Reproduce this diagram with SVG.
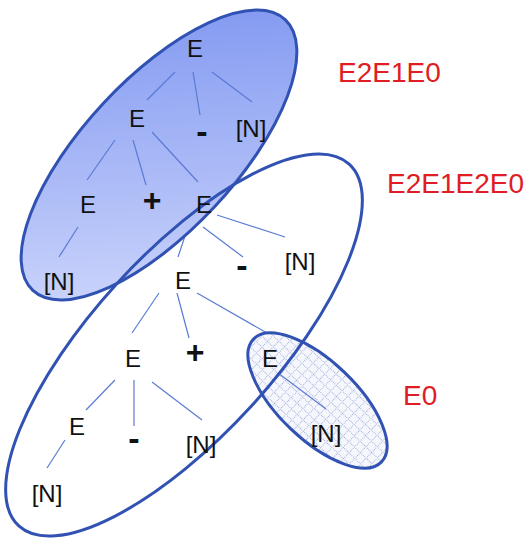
<svg xmlns="http://www.w3.org/2000/svg" width="525" height="539" viewBox="0 0 525 539">
<defs>
<linearGradient id="blueGrad" gradientUnits="userSpaceOnUse" x1="285" y1="25" x2="35" y2="285">
<stop offset="0" stop-color="#7b93f0"/>
<stop offset="1" stop-color="#d2dafc"/>
</linearGradient>
<pattern id="grid" patternUnits="userSpaceOnUse" width="8" height="8">
<rect width="8" height="8" fill="#f5f7fd"/>
<path d="M0 0.5H8M0.5 0V8" stroke="#8e9fcc" stroke-width="0.8" stroke-dasharray="1 1"/>
</pattern>
<style>
.set{stroke:#3152b3;stroke-width:3}
.edge{stroke:#5b7ad4;stroke-width:1.2;fill:none}
.t{font-family:"Liberation Sans",Arial,sans-serif;font-size:24px;fill:#111;text-anchor:middle}
.plus{font-family:"Liberation Sans",Arial,sans-serif;font-size:32px;font-weight:bold;fill:#111;text-anchor:middle}
.minus{font-family:"Liberation Sans",Arial,sans-serif;font-size:34px;font-weight:bold;fill:#111;text-anchor:middle}
.lbl{font-family:"Liberation Sans",Arial,sans-serif;font-size:28px;fill:#e01c24}
</style>
</defs>
<g id="sets-fill">
<ellipse cx="159" cy="155" rx="185" ry="76" transform="rotate(-47 159 155)" fill="url(#blueGrad)"/>
<ellipse cx="317.5" cy="400.5" rx="88.7" ry="39" transform="rotate(43.8 317.5 400.5)" fill="url(#grid)"/>
</g>
<g id="connectors">
<line class="edge" x1="175" y1="72" x2="147" y2="100"/>
<line class="edge" x1="193" y1="72" x2="200" y2="115"/>
<line class="edge" x1="212" y1="72" x2="252" y2="102"/>
<line class="edge" x1="115" y1="140" x2="87" y2="180"/>
<line class="edge" x1="133" y1="140" x2="146" y2="185"/>
<line class="edge" x1="152" y1="132" x2="198" y2="182"/>
<line class="edge" x1="78" y1="227" x2="59" y2="257"/>
<line class="edge" x1="217" y1="215" x2="285" y2="237"/>
<line class="edge" x1="203" y1="227" x2="243" y2="257"/>
<line class="edge" x1="185" y1="236" x2="178" y2="257"/>
<line class="edge" x1="159" y1="293" x2="132" y2="333"/>
<line class="edge" x1="177" y1="293" x2="189" y2="338"/>
<line class="edge" x1="197" y1="293" x2="267" y2="333"/>
<line class="edge" x1="115" y1="380" x2="86" y2="410"/>
<line class="edge" x1="134" y1="380" x2="134" y2="426"/>
<line class="edge" x1="152" y1="382" x2="202" y2="420"/>
<line class="edge" x1="65" y1="440" x2="47" y2="468"/>
<line class="edge" x1="278" y1="373" x2="326" y2="409"/>
</g>
<g id="sets-outline" fill="none">
<ellipse id="set-E2E1E0" class="set" cx="159" cy="155" rx="185" ry="76" transform="rotate(-47 159 155)"/>
<ellipse id="set-E0" class="set" cx="317.5" cy="400.5" rx="88.7" ry="39" transform="rotate(43.8 317.5 400.5)"/>
<ellipse id="set-E2E1E2E0" class="set" cx="184" cy="345" rx="245" ry="91" transform="rotate(-47.6 184 345)"/>
</g>
<g id="n1"><text class="t" x="195" y="57">E</text></g>
<g id="n2"><text class="t" x="137" y="127">E</text></g>
<g id="n3"><text class="minus" x="202" y="143">-</text></g>
<g id="n4"><text class="t" x="251" y="137">[N]</text></g>
<g id="n5"><text class="t" x="88" y="213">E</text></g>
<g id="n6"><text class="plus" x="152" y="211">+</text></g>
<g id="n7"><text class="t" x="204" y="213">E</text></g>
<g id="n8"><text class="t" x="59" y="290">[N]</text></g>
<g id="n9"><text class="t" x="183" y="289">E</text></g>
<g id="n10"><text class="minus" x="242" y="277">-</text></g>
<g id="n11"><text class="t" x="300" y="270">[N]</text></g>
<g id="n12"><text class="t" x="133" y="367">E</text></g>
<g id="n13"><text class="plus" x="195" y="363">+</text></g>
<g id="n14"><text class="t" x="270" y="367">E</text></g>
<g id="n15"><text class="t" x="77" y="435">E</text></g>
<g id="n16"><text class="minus" x="134" y="450">-</text></g>
<g id="n17"><text class="t" x="201" y="453">[N]</text></g>
<g id="n18"><text class="t" x="326" y="442">[N]</text></g>
<g id="n19"><text class="t" x="47" y="502">[N]</text></g>
<g id="labels">
<text class="lbl" x="338" y="82">E2E1E0</text>
<text class="lbl" x="387" y="193">E2E1E2E0</text>
<text class="lbl" x="403" y="405">E0</text>
</g>
</svg>
